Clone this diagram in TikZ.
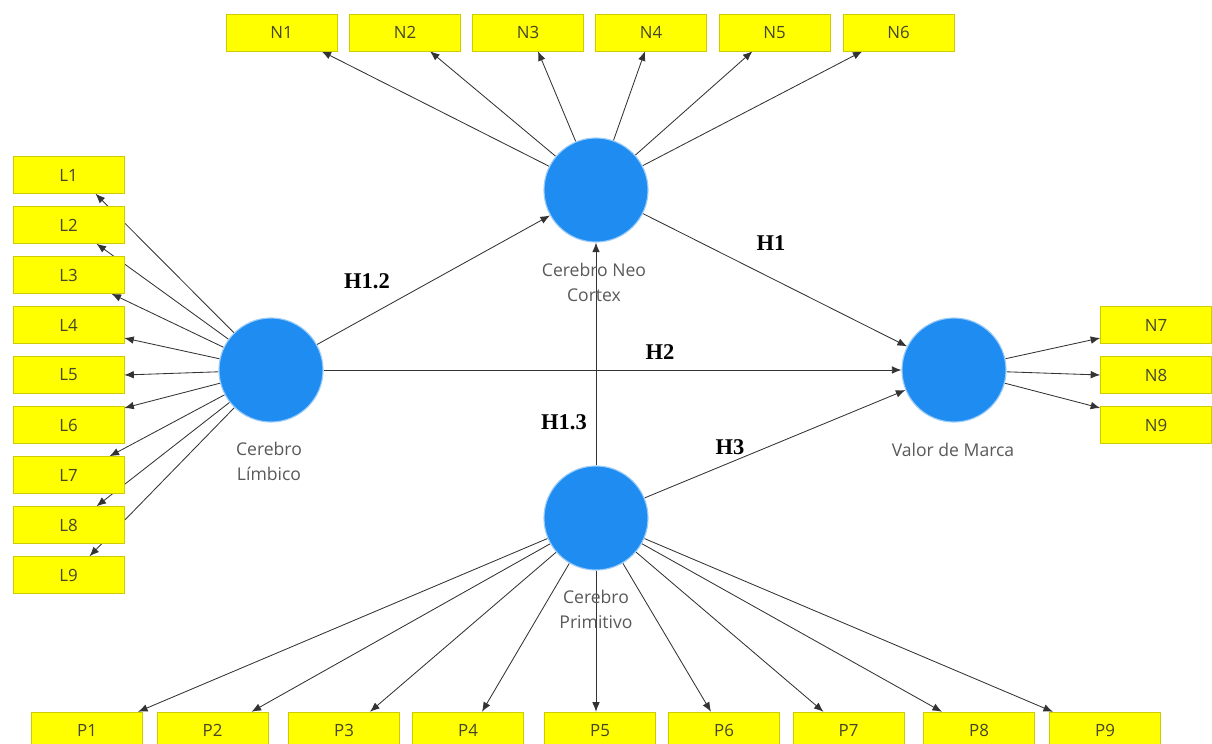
\documentclass[tikz,border=0pt]{standalone}
\usepackage{fontspec}
\setmainfont{Liberation Serif}
\newfontfamily\itemfont{Open Sans}
\usetikzlibrary{arrows.meta,calc,backgrounds}
\definecolor{latentblue}{RGB}{30,140,240}
\definecolor{itemyellow}{RGB}{255,255,0}
\definecolor{itemtext}{RGB}{70,70,40}
\tikzset{
  item/.style={draw=itemyellow!80!black, fill=itemyellow, line width=0.3pt, minimum width=2.775cm, minimum height=0.925cm, inner sep=0pt, font=\itemfont\fontsize{12}{14}\selectfont, text=itemtext},
  latent/.style={circle, fill=latentblue, draw=latentblue!45, line width=0.8pt, minimum size=2.6cm, inner sep=0pt},
  lvname/.style={font=\itemfont\fontsize{12.5}{17.7}\selectfont, text=black!65, align=center},
  hyp/.style={font=\bfseries\fontsize{16}{19}\selectfont},
  arr/.style={-{Latex[length=2.4mm,width=1.9mm]}, draw=black!80, line width=0.6pt}
}
\begin{document}
\begin{tikzpicture}[x=0.025cm,y=-0.025cm]
\useasboundingbox (0,0) rectangle (1212,744);
% constructs
\node[latent] (neo) at (596,190) {};
\node[latent] (limbico) at (271,370) {};
\node[latent] (valor) at (954,370) {};
\node[latent] (primitivo) at (596,518) {};
\node[lvname] (neolbl) at (594,282) {Cerebro Neo\\Cortex};
\node[lvname] (limbicolbl) at (269,461) {Cerebro\\Límbico};
\node[lvname] (valorlbl) at (953,450) {Valor de Marca};
\node[lvname] (primitivolbl) at (596,609) {Cerebro\\Primitivo};
% indicators
\node[item] (n1) at (281.5,32.5) {N1};
\node[item] (n2) at (405,32.5) {N2};
\node[item] (n3) at (528,32.5) {N3};
\node[item] (n4) at (651,32.5) {N4};
\node[item] (n5) at (774.5,32.5) {N5};
\node[item] (n6) at (898.5,32.5) {N6};
\node[item] (l1) at (68.5,175) {L1};
\node[item] (l2) at (68.5,225) {L2};
\node[item] (l3) at (68.5,275) {L3};
\node[item] (l4) at (68.5,325) {L4};
\node[item] (l5) at (68.5,375) {L5};
\node[item] (l6) at (68.5,425) {L6};
\node[item] (l7) at (68.5,475) {L7};
\node[item] (l8) at (68.5,525) {L8};
\node[item] (l9) at (68.5,575) {L9};
\node[item] (n7) at (1156,325) {N7};
\node[item] (n8) at (1156,375) {N8};
\node[item] (n9) at (1156,425) {N9};
\node[item] (p1) at (87,730.5) {P1};
\node[item] (p2) at (212.5,730.5) {P2};
\node[item] (p3) at (344,730.5) {P3};
\node[item] (p4) at (468,730.5) {P4};
\node[item] (p5) at (600,730.5) {P5};
\node[item] (p6) at (724,730.5) {P6};
\node[item] (p7) at (848.5,730.5) {P7};
\node[item] (p8) at (979,730.5) {P8};
\node[item] (p9) at (1105,730.5) {P9};
% hypotheses
\node[hyp] (h12) at (367,281) {H1.2};
\node[hyp] (h1) at (771,243) {H1};
\node[hyp] (h2) at (660,352) {H2};
\node[hyp] (h13) at (564,422) {H1.3};
\node[hyp] (h3) at (730,447) {H3};
\begin{pgfonlayer}{background}
\draw[arr] (limbico) -- (neo);
\draw[arr] (neo) -- (valor);
\draw[arr] (limbico) -- (valor);
\draw[arr] (primitivo) -- (neo);
\draw[arr] (primitivo) -- (valor);
\draw[arr] (neo) -- ($(n1.south)+(40,0)$);
\draw[arr] (neo) -- ($(n2.south)+(25,0)$);
\draw[arr] (neo) -- ($(n3.south)+(10,0)$);
\draw[arr] (neo) -- ($(n4.south)+(-6,0)$);
\draw[arr] (neo) -- ($(n5.south)+(-22,0)$);
\draw[arr] (neo) -- ($(n6.south)+(-36,0)$);
\draw[arr] (limbico) -- ($(l1.south)+(27,0)$);
\draw[arr] (limbico) -- ($(l2.south)+(28,0)$);
\draw[arr] (limbico) -- ($(l3.south)+(43,0)$);
\draw[arr] (limbico) -- ($(l4.east)+(0,13)$);
\draw[arr] (limbico) -- (l5.east);
\draw[arr] (limbico) -- ($(l6.east)+(0,-17)$);
\draw[arr] (limbico) -- ($(l7.north)+(41,0)$);
\draw[arr] (limbico) -- ($(l8.north)+(28,0)$);
\draw[arr] (limbico) -- ($(l9.north)+(21,0)$);
\draw[arr] (valor) -- ($(n7.west)+(0,13)$);
\draw[arr] (valor) -- (n8.west);
\draw[arr] (valor) -- ($(n9.west)+(0,-17)$);
\draw[arr] (primitivo) -- ($(p1.north)+(51,0)$);
\draw[arr] (primitivo) -- ($(p2.north)+(39,0)$);
\draw[arr] (primitivo) -- ($(p3.north)+(26,0)$);
\draw[arr] (primitivo) -- ($(p4.north)+(14,0)$);
\draw[arr] (primitivo) -- ($(p5.north)+(-4,0)$);
\draw[arr] (primitivo) -- ($(p6.north)+(-13,0)$);
\draw[arr] (primitivo) -- ($(p7.north)+(-25,0)$);
\draw[arr] (primitivo) -- ($(p8.north)+(-37,0)$);
\draw[arr] (primitivo) -- ($(p9.north)+(-52,0)$);
\end{pgfonlayer}
\end{tikzpicture}
\end{document}
